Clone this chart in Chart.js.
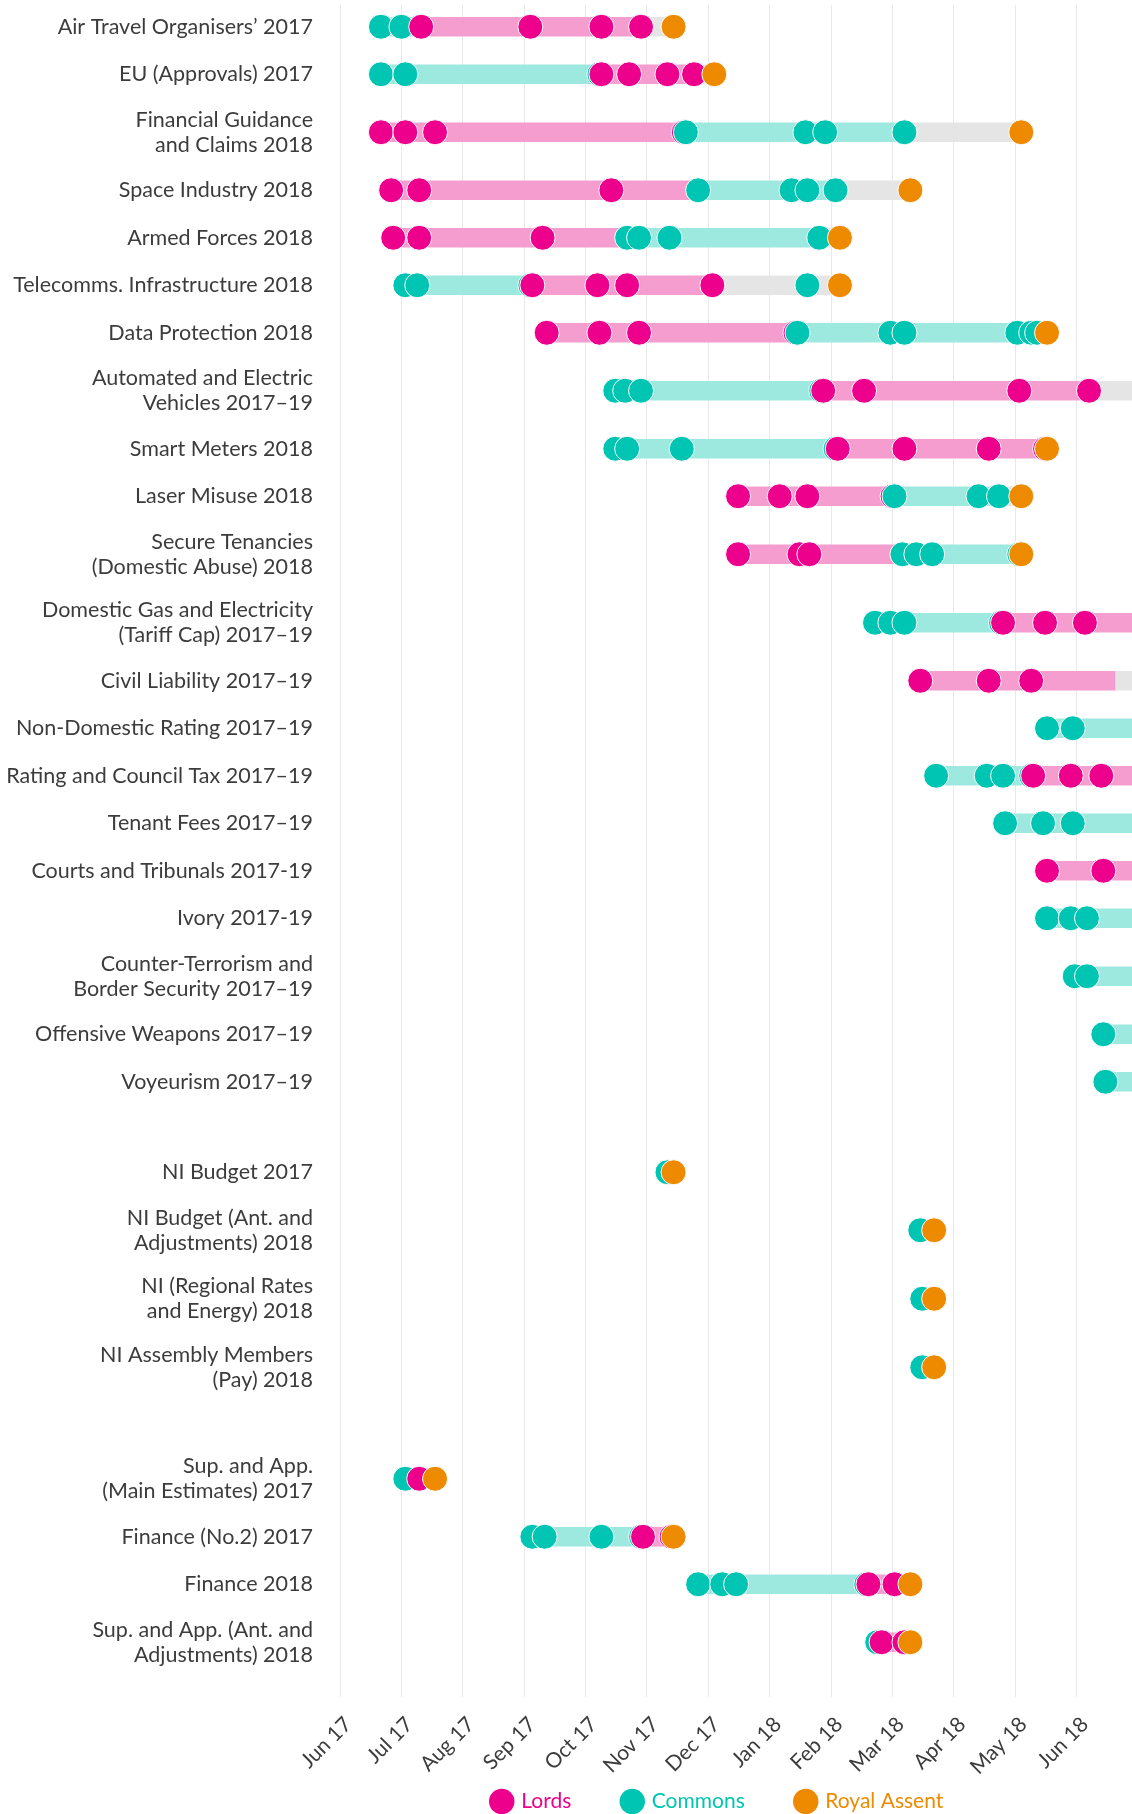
<!DOCTYPE html>
<html>
<head>
<meta charset="utf-8">
<title>Bill progress, 2017–19 session</title>
<script src="https://cdn.jsdelivr.net/npm/chart.js@4.4.1/dist/chart.umd.min.js"></script>
<style>
  html, body { margin: 0; padding: 0; background: #fff; }
  canvas { display: block; }
</style>
</head>
<body>
<canvas id="billChart" width="1132" height="1814"></canvas>
<script>
// bills, top to bottom; two-line names are arrays
const billNames = [
  'Air Travel Organisers’ 2017',
  'EU (Approvals) 2017',
  ['Financial Guidance', 'and Claims 2018'],
  'Space Industry 2018',
  'Armed Forces 2018',
  'Telecomms. Infrastructure 2018',
  'Data Protection 2018',
  ['Automated and Electric', 'Vehicles 2017–19'],
  'Smart Meters 2018',
  'Laser Misuse 2018',
  ['Secure Tenancies', '(Domestic Abuse) 2018'],
  ['Domestic Gas and Electricity', '(Tariff Cap) 2017–19'],
  'Civil Liability 2017–19',
  'Non-Domestic Rating 2017–19',
  'Rating and Council Tax 2017–19',
  'Tenant Fees 2017–19',
  'Courts and Tribunals 2017-19',
  'Ivory 2017-19',
  ['Counter-Terrorism and', 'Border Security 2017–19'],
  'Offensive Weapons 2017–19',
  'Voyeurism 2017–19',
  'NI Budget 2017',
  ['NI Budget (Ant. and', 'Adjustments) 2018'],
  ['NI (Regional Rates', 'and Energy) 2018'],
  ['NI Assembly Members', '(Pay) 2018'],
  ['Sup. and App.', '(Main Estimates) 2017'],
  'Finance (No.2) 2017',
  'Finance 2018',
  ['Sup. and App. (Ant. and', 'Adjustments) 2018']
];
// index of the first bill in each later group (NI bills, money bills)
const groupBreaks = [21, 25];

const monthLabels = ['Jun 17', 'Jul 17', 'Aug 17', 'Sep 17', 'Oct 17', 'Nov 17', 'Dec 17',
  'Jan 18', 'Feb 18', 'Mar 18', 'Apr 18', 'May 18', 'Jun 18'];

const commonsDates = [
  ['2017-06-21', '2017-07-01'],
  ['2017-06-21', '2017-07-03', '2017-10-08'],
  ['2017-11-20', '2018-01-19', '2018-01-29', '2018-03-07'],
  ['2017-11-26', '2018-01-12', '2018-01-20', '2018-02-03'],
  ['2017-10-22', '2017-10-28', '2017-11-12', '2018-01-26'],
  ['2017-07-03', '2017-07-09', '2017-09-04', '2018-01-20'],
  ['2018-01-15', '2018-02-28', '2018-03-07', '2018-05-02', '2018-05-09', '2018-05-12'],
  ['2017-10-16', '2017-10-21', '2017-10-29', '2018-01-27'],
  ['2017-10-16', '2017-10-22', '2017-11-18', '2018-02-03'],
  ['2018-03-02', '2018-04-13', '2018-04-23'],
  ['2018-03-06', '2018-03-13', '2018-03-21', '2018-05-03'],
  ['2018-02-21', '2018-02-28', '2018-03-07', '2018-04-24'],
  [],
  ['2018-05-17', '2018-05-30'],
  ['2018-03-23', '2018-04-17', '2018-04-25', '2018-05-09'],
  ['2018-04-26', '2018-05-15', '2018-05-30'],
  [],
  ['2018-05-17', '2018-05-29', '2018-06-06'],
  ['2018-05-31', '2018-06-06'],
  ['2018-06-14'],
  ['2018-06-15'],
  ['2017-11-11'],
  ['2018-03-15'],
  ['2018-03-16'],
  ['2018-03-16'],
  ['2017-07-03'],
  ['2017-09-05', '2017-09-11', '2017-10-09', '2017-10-29'],
  ['2017-11-26', '2017-12-08', '2017-12-15', '2018-02-17'],
  ['2018-02-22']
];

const lordsDates = [
  ['2017-07-11', '2017-09-04', '2017-10-09', '2017-10-29'],
  ['2017-10-09', '2017-10-23', '2017-11-11', '2017-11-24'],
  ['2017-06-21', '2017-07-03', '2017-07-18', '2017-11-19'],
  ['2017-06-26', '2017-07-10', '2017-10-14'],
  ['2017-06-27', '2017-07-10', '2017-09-10'],
  ['2017-09-05', '2017-10-07', '2017-10-22', '2017-12-03'],
  ['2017-09-12', '2017-10-08', '2017-10-28', '2018-01-14'],
  ['2018-01-28', '2018-02-16', '2018-05-03', '2018-06-07'],
  ['2018-02-04', '2018-03-07', '2018-04-18', '2018-05-16'],
  ['2017-12-16', '2018-01-06', '2018-01-20', '2018-03-01'],
  ['2017-12-16', '2018-01-16', '2018-01-21'],
  ['2018-04-25', '2018-05-16', '2018-06-05'],
  ['2018-03-15', '2018-04-18', '2018-05-09'],
  [],
  ['2018-05-10', '2018-05-29', '2018-06-13'],
  [],
  ['2018-05-17', '2018-06-14'],
  [], [], [], [],
  [], [], [], [],
  ['2017-07-10'],
  ['2017-10-30', '2017-11-13'],
  ['2018-02-18', '2018-03-02'],
  ['2018-02-24', '2018-03-07']
];

const assentDates = [
  '2017-11-14', '2017-12-04', '2018-05-04', '2018-03-10', '2018-02-05', '2018-02-05',
  '2018-05-17', null, '2018-05-17', '2018-05-04', '2018-05-04', null, null, null, null,
  null, null, null, null, null, null,
  '2017-11-14', '2018-03-22', '2018-03-22', '2018-03-22',
  '2017-07-18', '2017-11-14', '2018-03-10', '2018-03-10'
];

// stage bars: [from, to]
const commonsStage = [
  ['2017-06-21', '2017-07-11'],
  ['2017-06-21', '2017-10-09'],
  ['2017-11-20', '2018-03-07'],
  ['2017-11-26', '2018-02-03'],
  ['2017-10-22', '2018-01-26'],
  ['2017-07-03', '2017-09-05'],
  ['2018-01-15', '2018-05-17'],
  ['2017-10-16', '2018-01-28'],
  ['2017-10-16', '2018-02-04'],
  ['2018-03-02', '2018-04-23'],
  ['2018-03-06', '2018-05-04'],
  ['2018-02-21', '2018-04-25'],
  null,
  ['2018-05-17', '2018-07-19'],
  ['2018-03-23', '2018-05-10'],
  ['2018-04-26', '2018-07-19'],
  null,
  ['2018-05-17', '2018-07-19'],
  ['2018-05-31', '2018-07-19'],
  ['2018-06-14', '2018-07-19'],
  ['2018-06-15', '2018-07-19'],
  null, null, null, null,
  null,
  ['2017-09-05', '2017-10-30'],
  ['2017-11-26', '2018-02-18'],
  null
];

const lordsStage = [
  ['2017-07-11', '2017-10-29'],
  ['2017-10-09', '2017-11-24'],
  ['2017-06-21', '2017-11-20'],
  ['2017-06-26', '2017-11-26'],
  ['2017-06-27', '2017-10-22'],
  ['2017-09-05', '2017-12-03'],
  ['2017-09-12', '2018-01-15'],
  ['2018-01-28', '2018-06-07'],
  ['2018-02-04', '2018-05-17'],
  ['2017-12-16', '2018-03-02'],
  ['2017-12-16', '2018-03-06'],
  ['2018-04-25', '2018-07-19'],
  ['2018-03-15', '2018-06-20'],
  null,
  ['2018-05-10', '2018-07-19'],
  null,
  ['2018-05-17', '2018-07-19'],
  null, null, null, null,
  null, null, null, null,
  null,
  ['2017-10-30', '2017-11-14'],
  ['2018-02-18', '2018-03-10'],
  ['2018-02-24', '2018-03-07']
];

// amendments / waiting stage (grey)
const finalStage = [
  ['2017-10-29', '2017-11-14'],
  ['2017-11-24', '2017-12-04'],
  ['2018-03-07', '2018-05-04'],
  ['2018-02-03', '2018-03-10'],
  ['2018-01-26', '2018-02-05'],
  ['2017-12-03', '2018-02-05'],
  null,
  ['2018-06-07', '2018-07-19'],
  null,
  ['2018-04-23', '2018-05-04'],
  null, null,
  ['2018-06-20', '2018-07-19'],
  null, null, null, null, null, null, null, null,
  null, null, null, null, null, null, null, null
];

const colours = {
  lords: '#EC008C', lordsBar: '#F69DCF',
  commons: '#00C5B2', commonsBar: '#9DE9E0',
  assent: '#EE8A00', finalBar: '#E5E5E5',
  text: '#3c3c3c', grid: '#e9e9e9'
};

// months since 1 Jun 2017, with the day as a fraction of its month
function monthOf(s) {
  const [y, m, d] = s.split('-').map(Number);
  const days = new Date(y, m, 0).getDate();
  return (y - 2017) * 12 + (m - 6) + (d - 1) / days;
}

// row positions: taller rows for two-line names, gap between groups
const ROW_SHORT = 47.5, ROW_TALL = 68.5, GROUP_GAP = 43;
const rowPos = [];
let prevH = 0;
billNames.forEach((name, i) => {
  const h = Array.isArray(name) ? ROW_TALL : ROW_SHORT;
  if (i === 0) rowPos.push(h / 2 - 2);
  else rowPos.push(rowPos[i - 1] + (prevH + h) / 2 + (groupBreaks.includes(i) ? GROUP_GAP : 0));
  prevH = h;
});
const yEnd = 1692;

// dots, in date order within each bill so later ones sit on top
const dots = [];
const dotColours = [];
billNames.forEach((_, i) => {
  const ev = [];
  commonsDates[i].forEach(d => ev.push([d, colours.commons]));
  lordsDates[i].forEach(d => ev.push([d, colours.lords]));
  if (assentDates[i]) ev.push([assentDates[i], colours.assent]);
  ev.sort((a, b) => a[0] < b[0] ? -1 : a[0] > b[0] ? 1 : 0);
  ev.forEach(([d, c]) => {
    dots.push({ x: monthOf(d), y: rowPos[i] });
    dotColours.push(c);
  });
});

const bars = [];
const barColours = [];
billNames.forEach((_, i) => {
  [[commonsStage, colours.commonsBar], [lordsStage, colours.lordsBar], [finalStage, colours.finalBar]]
    .forEach(([stage, c]) => {
      if (!stage[i]) return;
      bars.push({ y: rowPos[i], x: [monthOf(stage[i][0]), monthOf(stage[i][1])] });
      barColours.push(c);
    });
});

const legendNames = ['Lords', 'Commons', 'Royal Assent'];
const legendColours = [colours.lords, colours.commons, colours.assent];

// small placement tweaks after Chart.js has laid out the boxes
const nudgeBoxes = {
  id: 'nudgeBoxes',
  afterLayout(chart) {
    const lg = chart.legend;
    lg.left -= 18; lg.right -= 18;
    lg.top += 8; lg.bottom += 8;
    // let the rotated month labels run below the short axis box
    chart.scales.x.bottom = chart.height;
  }
};

function draw() {
  Chart.defaults.font.family = 'Lato, "Open Sans", sans-serif';
  Chart.defaults.color = colours.text;

  new Chart(document.getElementById('billChart'), {
    type: 'scatter',
    data: {
      datasets: [
        ...legendNames.map((name, k) => ({
          label: name,
          data: [],
          backgroundColor: legendColours[k],
          pointBackgroundColor: legendColours[k],
          borderWidth: 0,
          pointStyle: 'circle',
          order: 0
        })),
        {
          label: 'stages',
          data: dots,
          pointRadius: 12.5,
          pointHoverRadius: 12.5,
          pointBackgroundColor: dotColours,
          pointBorderColor: '#ffffff',
          pointBorderWidth: 1,
          order: 1
        },
        {
          type: 'bar',
          label: 'periods',
          indexAxis: 'y',
          data: bars,
          backgroundColor: barColours,
          barThickness: 19,
          order: 2
        }
      ]
    },
    options: {
      responsive: false,
      animation: false,
      layout: { autoPadding: false, padding: { top: 5, left: 0, right: 0, bottom: 0 } },
      scales: {
        x: {
          type: 'linear',
          min: 0,
          max: monthOf('2018-06-28'),
          grid: { color: colours.grid, lineWidth: 1, drawTicks: false },
          border: { display: false },
          afterBuildTicks: s => { s.ticks = monthLabels.map((_, i) => ({ value: i })); },
          afterFit: s => { s.height = 34; s.paddingLeft = 0; s.paddingRight = 0; },
          ticks: {
            autoSkip: false,
            minRotation: 45,
            maxRotation: 45,
            padding: 15,
            labelOffset: 8,
            font: { size: 21 },
            callback: (v, i) => monthLabels[i]
          }
        },
        y: {
          type: 'linear',
          reverse: true,
          min: 0,
          max: yEnd,
          offset: false,
          grid: { display: false, drawTicks: false, offset: false },
          border: { display: false },
          afterBuildTicks: s => { s.ticks = rowPos.map(v => ({ value: v })); },
          afterFit: s => { s.width = 340; s.paddingTop = 0; s.paddingBottom = 0; },
          ticks: {
            autoSkip: false,
            padding: 27,
            font: { size: 21.5, lineHeight: 1.17 },
            callback: (v, i) => billNames[i]
          }
        }
      },
      plugins: {
        tooltip: { enabled: false },
        legend: {
          position: 'bottom',
          fullSize: false,
          labels: {
            usePointStyle: true,
            boxWidth: 18,
            boxHeight: 18,
            padding: 52,
            font: { size: 21 },
            generateLabels: chart => Chart.defaults.plugins.legend.labels.generateLabels(chart)
              .filter(item => legendNames.includes(item.text))
              .map(item => Object.assign(item, { fontColor: item.fillStyle }))
          }
        }
      }
    },
    plugins: [nudgeBoxes]
  });
}

document.fonts.load('20px Lato').then(draw, draw);
</script>
</body>
</html>
